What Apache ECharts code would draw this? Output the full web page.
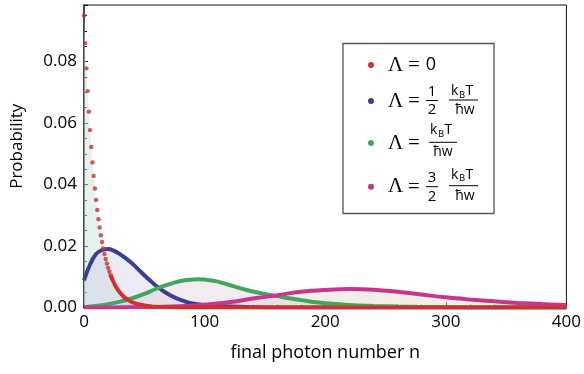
<!DOCTYPE html>
<html>
<head>
<meta charset="utf-8">
<script src="https://cdn.jsdelivr.net/npm/echarts@6/dist/echarts.min.js"></script>
<style>
  html, body { margin: 0; padding: 0; background: #fff; }
  #chart { width: 584px; height: 374px; }
</style>
</head>
<body>
<div id="chart"></div>
<script>
// Λ = 0 : separate dots for the first photon numbers, then a continuous tail
const redDotN = [0, 1, 2, 3, 4, 5, 6, 7, 8, 9, 10, 11, 12, 13, 14, 15, 16, 17, 18, 19, 20, 21, 22, 23];
const redDotP = [0.0950, 0.0860, 0.0778, 0.0704, 0.0637, 0.0577, 0.0522, 0.0472, 0.0428, 0.0387,
                 0.0350, 0.0317, 0.0287, 0.0260, 0.0235, 0.0213, 0.0192, 0.0174, 0.0158, 0.0143,
                 0.0129, 0.0117, 0.0106, 0.0096];
const redTailN = [22, 24, 26, 28, 30, 33, 36, 40, 45, 50, 55, 60, 70, 80, 100, 150, 200, 300, 400];
const redTailP = [0.0106, 0.0087, 0.0071, 0.0058, 0.0048, 0.0035, 0.0026, 0.0017, 0.0011, 0.0007,
                  0.0004, 0.0002, 0.0001, 0, 0, 0, 0, 0, 0];

// Λ = 1/2 kBT/ħw
const blueN = [0, 5, 10, 15, 20, 25, 30, 35, 40, 45, 50, 55, 60, 65, 70, 75, 80, 85, 90, 100, 110, 120, 140, 160, 200, 300, 400];
const blueP = [0.0088, 0.0140, 0.0174, 0.0187, 0.0190, 0.0184, 0.0173, 0.0159, 0.0143, 0.0124,
               0.0105, 0.0087, 0.0070, 0.0056, 0.0043, 0.0033, 0.0025, 0.0018, 0.0013, 0.0008,
               0.0005, 0.0003, 0.0001, 0, 0, 0, 0];

// Λ = kBT/ħw
const greenN = [0, 10, 20, 30, 40, 50, 60, 70, 80, 90, 95, 100, 110, 120, 130, 140, 150, 160, 170, 180, 190, 200, 220, 240, 260, 280, 300, 340, 400];
const greenP = [0.0001, 0.0005, 0.0011, 0.0019, 0.0030, 0.0044, 0.0061, 0.0075, 0.0086, 0.0091,
                0.0092, 0.0091, 0.0085, 0.0074, 0.0062, 0.0052, 0.0044, 0.0037, 0.0030, 0.0024,
                0.0018, 0.0014, 0.0008, 0.0005, 0.0003, 0.0002, 0.0001, 0, 0];

// Λ = 3/2 kBT/ħw
const magentaN = [0, 20, 40, 60, 80, 100, 120, 140, 160, 180, 200, 220, 240, 260, 280, 300, 320, 340, 360, 380, 400];
const magentaP = [0, 0, 0.0001, 0.0002, 0.0004, 0.0009, 0.0017, 0.0029, 0.0040, 0.0051,
                  0.0057, 0.0060, 0.0058, 0.0051, 0.0042, 0.0033, 0.0026, 0.0020, 0.0015, 0.0011, 0.0008];

const xMax = 400;
const yMax = 0.0984;

const RED = '#d1302c', BLUE = '#3b3f94', GREEN = '#3fa85c', MAGENTA = '#c7358f';
const FONT = '"Open Sans", "DejaVu Sans", sans-serif';
const SERIF = '"Liberation Serif", serif';

const pairs = (xs, ys) => xs.map((x, i) => [x, ys[i]]);

const redAll = pairs(redDotN, redDotP).concat(pairs(redTailN, redTailP).filter(d => d[0] > 23));

function areaSeries(data, color) {
  return {
    type: 'line', data: data, smooth: 0.4, showSymbol: false, silent: true, z: 1,
    lineStyle: { width: 0 },
    areaStyle: { color: color, opacity: 1 }
  };
}

function curveSeries(data, color) {
  return {
    type: 'line', data: data, smooth: 0.4, showSymbol: false, silent: true, z: 3,
    lineStyle: { width: 4, color: color }
  };
}

// legend pieces
function txt(x, y, text, size, align, family) {
  return {
    type: 'text', x: x, y: y, z: 20,
    style: {
      text: text, font: size + 'px ' + (family || FONT), fill: '#000',
      align: align || 'center', verticalAlign: 'middle',
      textAlign: align || 'center', textVerticalAlign: 'middle'
    }
  };
}
function bar(x1, x2, y) {
  return { type: 'line', z: 20, shape: { x1: x1, y1: y, x2: x2, y2: y }, style: { stroke: '#000', lineWidth: 1 } };
}
function kbt(cx, cy) {
  return [txt(cx - 13, cy, 'k', 14, 'left'), txt(cx - 5, cy + 3.5, 'B', 9.5, 'left'), txt(cx + 1.5, cy, 'T', 14, 'left')];
}
function dot(y, color) {
  return { type: 'circle', z: 20, shape: { cx: 371, cy: y, r: 3 }, style: { fill: color } };
}
function lambdaEq(y) {
  return [txt(395.5, y, 'Λ', 21, 'center', SERIF), txt(414, y + 0.5, '=', 21, 'center', SERIF)];
}

const legendEls = [
  { type: 'rect', z: 19, shape: { x: 343, y: 43.5, width: 151, height: 170 }, style: { fill: '#fff', stroke: '#555', lineWidth: 1.3 } },
  dot(65, RED), ...lambdaEq(65), txt(431, 65, '0', 18),

  dot(101, BLUE), ...lambdaEq(101),
  txt(432, 92, '1', 15), bar(426, 438, 100.5), txt(432, 110, '2', 15),
  ...kbt(464, 91.5), bar(449, 478, 100), txt(465, 110.5, 'ħw', 14),

  dot(143, GREEN), ...lambdaEq(143),
  ...kbt(443, 130.5), bar(429, 457, 142.3), txt(443, 152, 'ħw', 14),

  dot(186.7, MAGENTA), ...lambdaEq(186.7),
  txt(432, 177.5, '3', 15), bar(426, 438, 186.7), txt(432, 196.5, '2', 15),
  ...kbt(464, 175), bar(449, 478, 185.7), txt(465, 196.5, 'ħw', 14)
];

const chart = echarts.init(document.getElementById('chart'));
chart.setOption({
  animation: false,
  textStyle: { fontFamily: FONT },
  grid: { left: 84, right: 13, top: 5, bottom: 66.5, show: true, borderColor: '#111', borderWidth: 1 },
  xAxis: {
    type: 'value', min: 0, max: xMax, interval: 100,
    name: 'final photon number n', nameLocation: 'middle', nameGap: 36,
    nameTextStyle: { fontSize: 18, color: '#000' },
    axisLine: { onZero: false, lineStyle: { color: '#222', width: 1.3 } },
    axisTick: { inside: true, length: 5, lineStyle: { color: '#111' } },
    minorTick: { show: true, splitNumber: 5, length: 3, lineStyle: { color: '#111' } },
    axisLabel: { fontSize: 17, color: '#000', margin: 6 },
    splitLine: { show: false }
  },
  yAxis: {
    type: 'value', min: 0, max: yMax, interval: 0.02,
    name: 'Probability', nameLocation: 'middle', nameGap: 58,
    nameTextStyle: { fontSize: 17, color: '#000', padding: [0, 0, 0, 20] },
    axisLine: { show: true, lineStyle: { color: '#444', width: 1.8 } },
    axisTick: { inside: true, length: 4, lineStyle: { color: '#111' } },
    minorTick: { show: true, splitNumber: 4, length: 3, lineStyle: { color: '#111' } },
    axisLabel: { fontSize: 17, color: '#000', margin: 7, showMaxLabel: false, formatter: v => v.toFixed(2) },
    splitLine: { show: false }
  },
  series: [
    areaSeries(redAll, 'rgba(205,225,218,0.5)'),
    areaSeries(pairs(blueN, blueP), 'rgba(205,208,232,0.4)'),
    areaSeries(pairs(greenN, greenP), 'rgba(222,205,218,0.4)'),
    areaSeries(pairs(magentaN, magentaP), 'rgba(222,218,200,0.45)'),
    curveSeries(pairs(blueN, blueP), BLUE),
    curveSeries(pairs(greenN, greenP), GREEN),
    curveSeries(pairs(magentaN, magentaP), MAGENTA),
    curveSeries(pairs(redTailN, redTailP), RED),
    {
      type: 'scatter', data: pairs(redDotN, redDotP), symbol: 'circle', symbolSize: 4.4,
      silent: true, z: 4, itemStyle: { color: RED }
    }
  ],
  graphic: { elements: legendEls }
});
</script>
</body>
</html>
